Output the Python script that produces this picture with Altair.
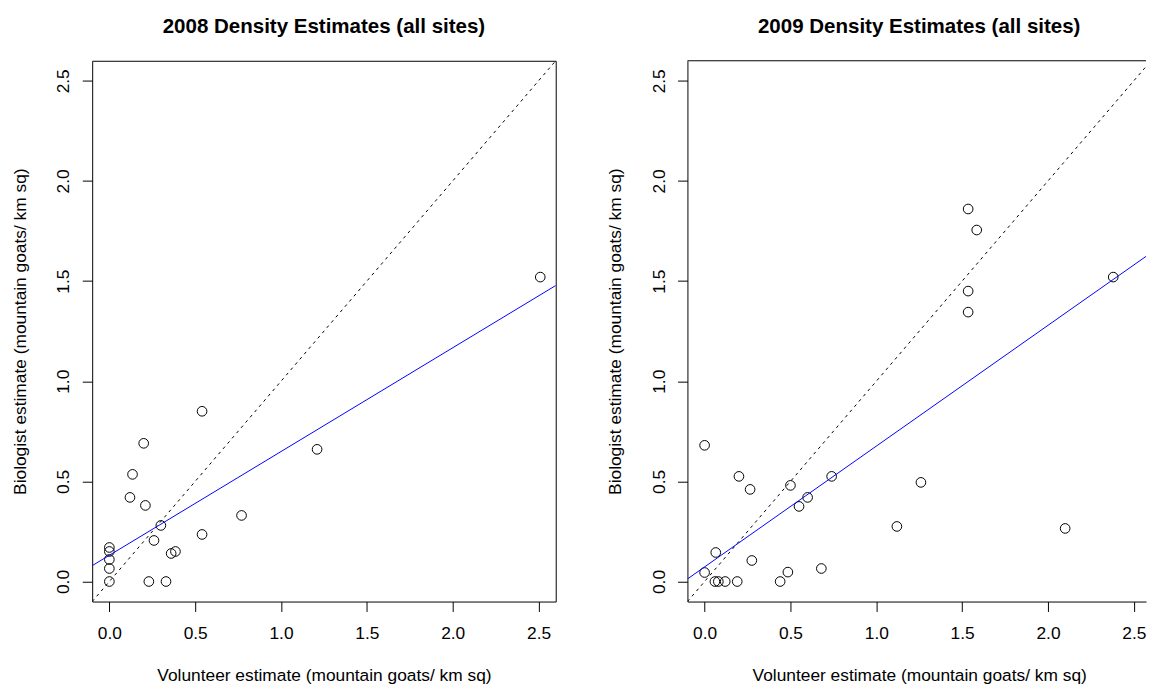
import altair as alt
import pandas as pd

FONT = "Liberation Sans"
FS = 17.5

titles = ["2008 Density Estimates (all sites)", "2009 Density Estimates (all sites)"]
x_title = "Volunteer estimate (mountain goats/ km sq)"
y_title = "Biologist estimate (mountain goats/ km sq)"
tick_values = [0.0, 0.5, 1.0, 1.5, 2.0, 2.5]

vol_2008 = [0.54, 0.20, 0.135, 0.12, 0.21, 0.77, 0.30, 0.54, 0.26, 0.36, 0.385,
            0.0, 0.0, 0.0, 0.0, 0.0, 0.23, 0.33, 1.21, 2.51]
bio_2008 = [0.85, 0.69, 0.535, 0.42, 0.38, 0.33, 0.28, 0.235, 0.205, 0.14, 0.15,
            0.17, 0.15, 0.11, 0.065, 0.0, 0.0, 0.0, 0.66, 1.52]

vol_2009 = [0.0, 0.20, 0.265, 0.50, 0.74, 0.60, 0.55, 0.065, 0.275, 0.0, 0.485, 0.68,
            0.06, 0.08, 0.12, 0.19, 0.44, 1.12, 1.26, 2.10, 2.38, 1.535, 1.585, 1.535, 1.535]
bio_2009 = [0.68, 0.525, 0.46, 0.48, 0.525, 0.42, 0.375, 0.145, 0.105, 0.045, 0.047, 0.065,
            0.0, 0.0, 0.0, 0.0, 0.0, 0.275, 0.495, 0.265, 1.52, 1.86, 1.755, 1.45, 1.345]

# fitted regression lines (intercept, slope) and the 1:1 reference line
fit_intercept = [0.131, 0.073]
fit_slope = [0.518, 0.603]

x_domains = [[-0.1, 2.6], [-0.1, 2.571]]
y_domain = [-0.1, 2.6]
widths = [468, 463]
HEIGHT = 546
FULL_W = 468


def panel(i, vol, bio, framed):
    width = widths[i]
    xs = alt.Scale(domain=x_domains[i], nice=False, zero=False)
    ys = alt.Scale(domain=y_domain, nice=False, zero=False)
    xaxis = alt.Axis(values=tick_values, format=".1f", tickSize=10, tickColor="black",
                     tickWidth=1, domain=not framed, domainColor="black", domainWidth=1,
                     grid=False, labelFont=FONT, labelFontSize=FS, labelColor="black",
                     labelBaseline="alphabetic", labelPadding=27.5, labelFlush=False,
                     title=x_title, titleFont=FONT, titleFontSize=FS,
                     titleFontWeight="normal", titleColor="black",
                     titleBaseline="alphabetic", titleY=80, titleX=FULL_W / 2,
                     titleAlign="center")
    yaxis = alt.Axis(values=tick_values, format=".1f", tickSize=10, tickColor="black",
                     tickWidth=1, domain=not framed, domainColor="black", domainWidth=1,
                     grid=False, labelFont=FONT, labelFontSize=FS, labelColor="black",
                     labelAngle=270, labelAlign="center", labelBaseline="alphabetic",
                     labelPadding=13.6, labelFlush=False,
                     title=y_title, titleFont=FONT, titleFontSize=FS,
                     titleFontWeight="normal", titleColor="black", titleAngle=270,
                     titleBaseline="alphabetic", titleAlign="center",
                     titleX=-67.5, titleY=HEIGHT / 2)

    pdf = pd.DataFrame({"vol": vol, "bio": bio})
    xa, xb = x_domains[i]
    ldf = pd.DataFrame({
        "x": [xa, xb],
        "fit": [fit_intercept[i] + fit_slope[i] * xa, fit_intercept[i] + fit_slope[i] * xb],
        "ident": [xa, xb],
    })

    pts = alt.Chart(pdf).mark_point(shape="circle", filled=False, size=95, color="black",
                                    strokeWidth=1, opacity=1).encode(
        x=alt.X("vol:Q", scale=xs, axis=xaxis),
        y=alt.Y("bio:Q", scale=ys, axis=yaxis),
    )
    ident = alt.Chart(ldf).mark_line(color="black", strokeWidth=1, strokeDash=[3, 4],
                                     clip=True).encode(
        x=alt.X("x:Q", scale=xs, axis=xaxis),
        y=alt.Y("ident:Q", scale=ys, axis=yaxis),
    )
    fit = alt.Chart(ldf).mark_line(color="#0000ff", strokeWidth=1, clip=True).encode(
        x=alt.X("x:Q", scale=xs, axis=xaxis),
        y=alt.Y("fit:Q", scale=ys, axis=yaxis),
    )
    layers = [pts, ident, fit]
    if not framed:
        top = alt.Chart(pd.DataFrame({"y": [y_domain[1]]})).mark_rule(
            color="black", strokeWidth=1).encode(y=alt.Y("y:Q", scale=ys, axis=yaxis))
        layers.append(top)

    title = alt.TitleParams(text=titles[i], font=FONT, fontSize=20.7, fontWeight="bold",
                            color="black", anchor="middle", frame="group",
                            baseline="alphabetic", offset=7,
                            dx=(FULL_W - width) / 2)
    view = alt.ViewBackground(stroke="black" if framed else "transparent", strokeWidth=1)
    return alt.layer(*layers).properties(width=width, height=HEIGHT, title=title, view=view)


left = panel(0, vol_2008, bio_2008, True)
right = panel(1, vol_2009, bio_2009, False)

chart = alt.hconcat(left, right, spacing=50).properties(
    padding={"left": 3, "top": 4, "right": 0, "bottom": 0},
    background="white",
)

chart.save("out.html", embed_options={"renderer": "svg", "actions": False})
